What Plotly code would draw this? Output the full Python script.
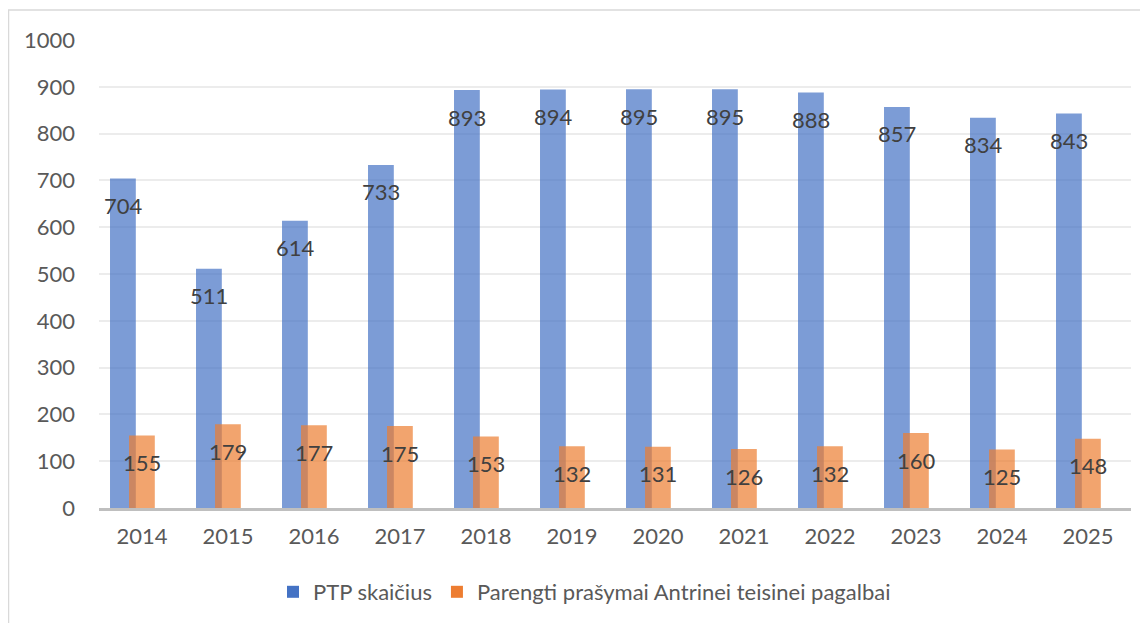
import plotly.graph_objects as go

years = ["2014", "2015", "2016", "2017", "2018", "2019", "2020", "2021", "2022", "2023", "2024", "2025"]
ptp = [704, 511, 614, 733, 893, 894, 895, 895, 888, 857, 834, 843]
prasymai = [155, 179, 177, 175, 153, 132, 131, 126, 132, 160, 125, 148]
names = ["PTP skaičius", "Parengti prašymai Antrinei teisinei pagalbai"]

FONT = "Lato, Carlito, Calibri, sans-serif"
# page has an 8px body margin; figure drawn from (8, 8)
W, H = 1140, 615
L, R, T, B = 91, 17, 32, 115

fig = go.Figure()
fig.add_trace(go.Bar(x=years, y=ptp, name=names[0], width=0.30, offset=-0.372,
                     marker=dict(color="#4472C4", opacity=0.7, line=dict(width=0))))
fig.add_trace(go.Bar(x=years, y=prasymai, name=names[1], width=0.30, offset=-0.151,
                     marker=dict(color="#ED7D31", opacity=0.7, line=dict(width=0))))

anns = []
for i, v in enumerate(ptp):
    anns.append(dict(x=i, y=v, xref="x", yref="y", text=str(v), showarrow=False, yshift=-27, xshift=-19,
                     font=dict(family=FONT, size=22, color="#404040")))
for i, v in enumerate(prasymai):
    anns.append(dict(x=i, y=v, xref="x", yref="y", text=str(v), showarrow=False, yshift=-27, xshift=0,
                     font=dict(family=FONT, size=22, color="#404040")))

pw = W - L - R
ph = H - T - B
fig.update_layout(
    width=W, height=H,
    margin=dict(l=L, r=R, t=T, b=B, autoexpand=False),
    barmode="overlay",
    plot_bgcolor="white", paper_bgcolor="white",
    font=dict(family=FONT, size=22, color="#595959"),
    annotations=anns,
    showlegend=True,
    legend=dict(orientation="h", xref="container", yref="container",
                x=265 / W, xanchor="left", y=1 - 584 / H, yanchor="middle",
                font=dict(family=FONT, size=22, color="#595959"),
                traceorder="normal", itemwidth=30, bgcolor="rgba(0,0,0,0)"),
    shapes=[dict(type="rect", xref="paper", yref="paper",
                 x0=(0.5 - L) / pw, x1=1.2, y0=-0.5, y1=1 + (T - 2) / ph,
                 line=dict(color="#d9d9d9", width=1.5), fillcolor="rgba(0,0,0,0)", layer="below")],
    xaxis=dict(type="category", range=[-0.5, 11.5], automargin=False, showgrid=False,
               showline=True, linecolor="#bfbfbf", linewidth=2.5,
               ticks="", ticklabelstandoff=7, tickfont=dict(family=FONT, size=22, color="#595959")),
    yaxis=dict(range=[0, 1000], dtick=100, automargin=False, showgrid=True, gridcolor="#ececec", gridwidth=1.5,
               zeroline=False, showline=False, ticks="", ticklabelstandoff=23,
               tickfont=dict(family=FONT, size=22, color="#595959")),
)

fig.write_html("out.html")
